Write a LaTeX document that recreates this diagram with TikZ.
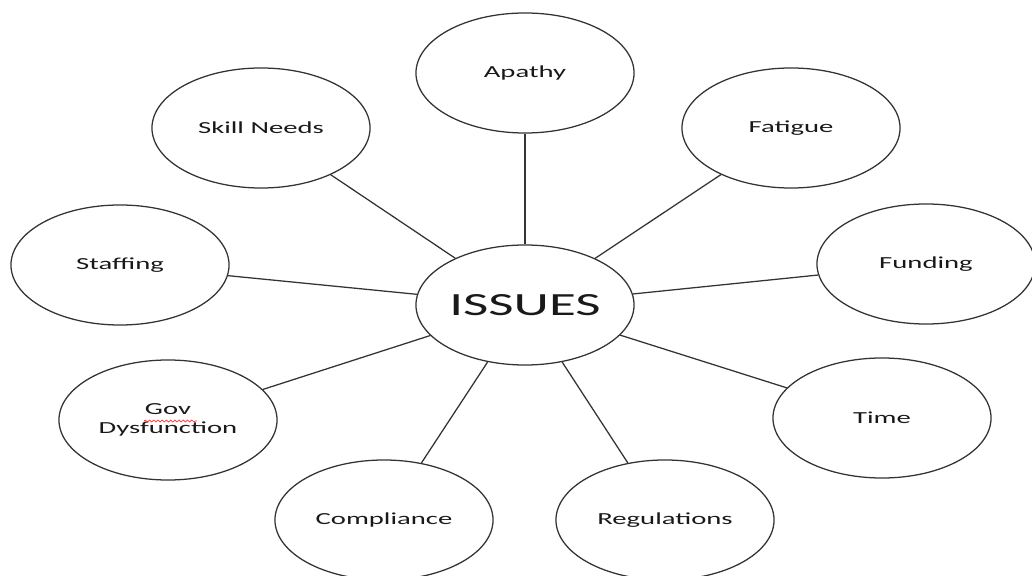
\documentclass[tikz,border=0pt]{standalone}
\usepackage{fontspec}
\setmainfont{Carlito}
\newfontfamily\widefont[FakeStretch=1.7]{Carlito}
\usetikzlibrary{shapes.geometric,decorations.pathmorphing,calc}

\begin{document}
\begin{tikzpicture}[x=0.025cm,y=-0.025cm,
  bub/.style={draw=black!80,ellipse,line width=0.9pt,minimum width=5.45cm,
              minimum height=3cm,inner sep=0pt,align=center,text=black!90,
              font=\widefont\fontsize{12}{13}\selectfont},
  hub/.style={bub,font=\widefont\fontsize{23}{26}\selectfont},
  link/.style={draw=black!80,line width=0.9pt},
]
\useasboundingbox (0,0) rectangle (1032,576);
% centre bubble
\node[hub] (issues) at (525,305) {ISSUES};
% ring of issues
\node[bub] (apathy) at (525,73) {Apathy};
\node[bub] (skill) at (261,128) {Skill Needs};
\node[bub] (fatigue) at (791,128) {Fatigue};
\node[bub] (staffing) at (120,265) {Staffing};
\node[bub] (funding) at (926,264) {Funding};
\node[bub] (gov) at (168,420) {Gov\\Dysfunction};
\node[bub] (time) at (882,418) {Time};
\node[bub] (compliance) at (384,520) {Compliance};
\node[bub] (regs) at (665,520) {Regulations};
\foreach \b in {apathy,skill,fatigue,staffing,funding,gov,time,compliance,regs}
  \draw[link] (issues) -- (\b);
% spell-check squiggle under Gov
\draw[red!80,line width=0.5pt,decorate,decoration={snake,amplitude=0.7pt,segment length=3pt}]
  ($(gov.center)+(-24,1)$) -- ($(gov.center)+(29,1)$);
\end{tikzpicture}
\end{document}
